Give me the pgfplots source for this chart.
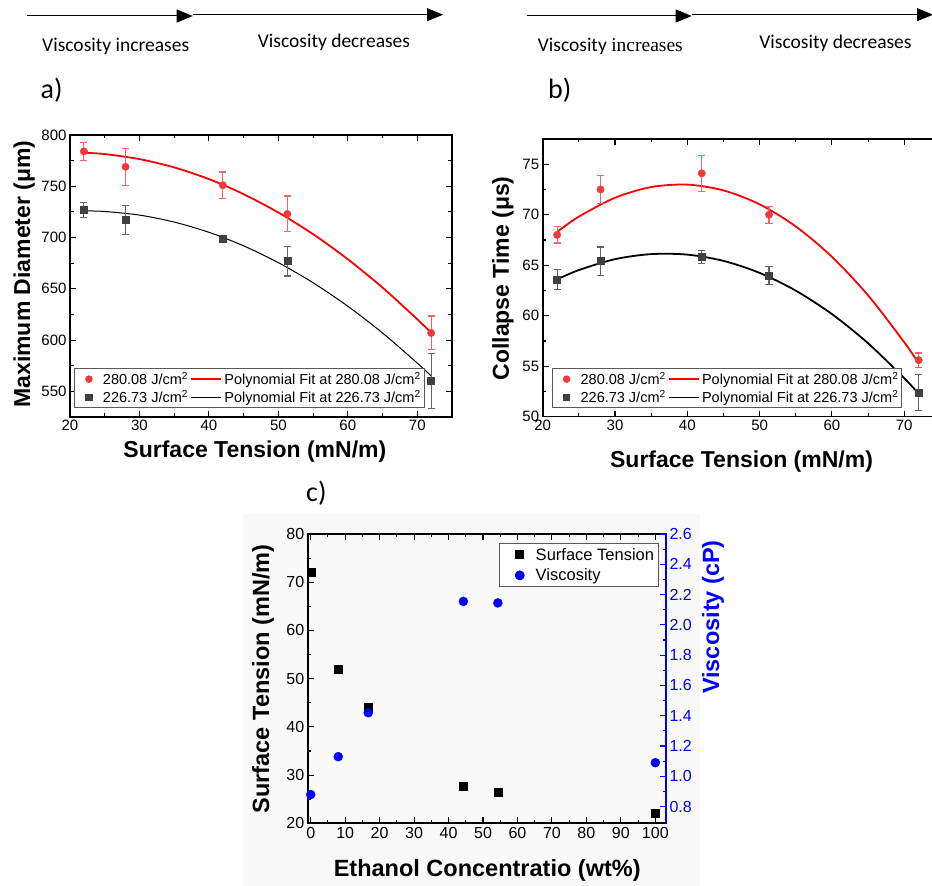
\documentclass[border=0pt]{standalone}
\usepackage{pgfplots}
\pgfplotsset{compat=1.18}
\usepackage{fontspec}
\setmainfont{Liberation Sans}
\newfontfamily\calfont{Carlito}
\newfontfamily\timesfont{Liberation Serif}
\usetikzlibrary{arrows.meta}

\definecolor{fitred}{RGB}{255,0,0}
\definecolor{ptred}{RGB}{240,58,58}
\definecolor{ebred}{RGB}{242,100,100}
\definecolor{ptgray}{RGB}{64,64,64}
\definecolor{ebgray}{RGB}{100,100,100}
\definecolor{vblue}{RGB}{0,0,255}

\newcommand{\fs}[1]{\fontsize{#1}{#1}\selectfont}

\pgfplotsset{
  panel/.style={
    scale only axis,
    axis line style={line width=1.6pt},
    tick style={black, line width=1.1pt},
    major tick length=6pt, minor tick length=3.5pt,
    tick align=inside,
    ticklabel style={font=\fs{15}},
    /pgf/number format/assume math mode=true,
    legend cell align=left,
    clip=false,
  },
  fitline/.style={legend image code/.code={\draw[##1] (-4.5pt,0pt) -- (26pt,0pt);}},
  markleg/.style={legend image code/.code={%
    \path[draw=none, fill=none] (-13pt,-2pt) rectangle (12pt,2pt);
    \draw[##1] plot coordinates {(0pt,0pt)};}},
  markwide/.style={legend image code/.code={%
    \path[draw=none, fill=none] (-18pt,-2pt) rectangle (14pt,2pt);
    \draw[##1] plot coordinates {(0pt,0pt)};}},
}

\begin{document}
\begin{tikzpicture}
\path[use as bounding box] (0pt,0pt) rectangle (932pt,886pt);
\fill[black!2.5] (243pt,0pt) rectangle (700pt,372pt);

% arrows and notes, panel a
\draw[line width=1pt, -{Triangle[length=16pt,width=13pt]}] (27pt,870pt) -- (192.7pt,870pt);
\draw[line width=1pt, -{Triangle[length=16pt,width=13pt]}] (192.7pt,871.3pt) -- (443pt,871.3pt);
\node[font=\calfont\fs{19.5}] at (115.7pt,840pt) {Viscosity increases};
\node[font=\calfont\fs{19.5}] at (334pt,843.7pt) {Viscosity decreases};
\node[font=\calfont\fs{28}, anchor=west, inner sep=0pt] at (40.5pt,796pt) {a)};

% arrows and notes, panel b
\draw[line width=1pt, -{Triangle[length=16pt,width=13pt]}] (526.7pt,870pt) -- (691.7pt,870pt);
\draw[line width=1pt, -{Triangle[length=16pt,width=13pt]}] (691.7pt,871.3pt) -- (933pt,871.3pt);
\node[font=\fs{19.5}] at (610.3pt,840pt) {\calfont Viscosity \timesfont increases};
\node[font=\calfont\fs{19.5}] at (835.5pt,843pt) {Viscosity decreases};
\node[font=\calfont\fs{28}, anchor=west, inner sep=0pt] at (548pt,796pt) {b)};
\node[font=\calfont\fs{28}, anchor=west, inner sep=0pt] at (306pt,393pt) {c)};

% ---------- panel a ----------
\begin{axis}[panel,
  at={(70pt,469pt)}, anchor=south west, width=382pt, height=282pt,
  xmin=20, xmax=75, ymin=525, ymax=800,
  xtick={20,30,...,70}, minor x tick num=1,
  ytick={550,600,...,800}, minor y tick num=1,
  xlabel={Surface Tension (mN/m)}, ylabel={Maximum Diameter (μm)},
  every axis x label/.style={at={(axis description cs:0.484,-0.123)}, anchor=center, font=\fs{23}\bfseries},
  every axis y label/.style={at={(axis description cs:-0.12,0.507)}, rotate=90, anchor=center, font=\fs{23}\bfseries},
  legend columns=2,
  legend style={at={(0.0105,0.1727)}, anchor=north west, font=\fs{14.5},
    draw=gray!70!black, line width=0.9pt, inner sep=1.5pt, row sep=0.5pt,
    /tikz/every even column/.append style={column sep=0pt}},
]
\addlegendimage{markleg, only marks, mark=*, ptred, mark size=3.3pt}
\addlegendentry{280.08 J/cm\textsuperscript{2}}
\addlegendimage{fitline, fitred, line width=1.8pt}
\addlegendentry{Polynomial Fit at 280.08 J/cm\textsuperscript{2}}
\addlegendimage{markleg, only marks, mark=square*, ptgray, mark size=3.2pt}
\addlegendentry{226.73 J/cm\textsuperscript{2}}
\addlegendimage{fitline, black, line width=1pt}
\addlegendentry{Polynomial Fit at 226.73 J/cm\textsuperscript{2}}

\addplot[fitred, line width=1.8pt, smooth, forget plot] coordinates {
  (22,782.7) (25,781.4) (30,776.5) (35,768.4) (40,757.0) (45,742.3)
  (50,724.4) (55,703.3) (60,678.8) (65,651.2) (70,620.3) (72,607.0)};
\addplot[black, line width=1pt, smooth, forget plot] coordinates {
  (22,726.0) (25,725.4) (30,721.9) (35,715.1) (40,705.1) (45,691.9)
  (50,675.5) (55,655.9) (60,633.0) (65,606.9) (70,577.6) (72,565.0)};
\addplot[only marks, mark=*, ptred, mark size=3.7pt, forget plot,
  error bars/.cd, y dir=both, y explicit,
  error bar style={ebred, line width=1.2pt},
  error mark options={rotate=90, ebred, mark size=3.6pt, line width=1.2pt}]
  coordinates {
  (22,784) +- (0,9) (28,769) +- (0,18) (42,751) +- (0,13)
  (51.3,723) +- (0,17.5) (72,607) +- (0,16.5)};
\addplot[only marks, mark=square*, ptgray, mark size=3.5pt, forget plot,
  error bars/.cd, y dir=both, y explicit,
  error bar style={ebgray, line width=1.2pt},
  error mark options={rotate=90, ebgray, mark size=3.6pt, line width=1.2pt}]
  coordinates {
  (22,727) +- (0,7.5) (28,717) +- (0,14) (42,699) +- (0,3)
  (51.3,677) +- (0,14.5) (72,560) +- (0,27)};
\end{axis}

% ---------- panel b ----------
\begin{axis}[panel,
  at={(542.7pt,469.3pt)}, anchor=south west, width=397.7pt, height=277.7pt,
  xmin=20, xmax=75, ymin=50, ymax=77.5,
  xtick={20,30,...,70}, minor x tick num=1,
  ytick={50,55,...,75}, minor y tick num=1,
  xlabel={Surface Tension (mN/m)}, ylabel={Collapse Time (μs)},
  every axis x label/.style={at={(axis description cs:0.5,-0.163)}, anchor=center, font=\fs{23}\bfseries},
  every axis y label/.style={at={(axis description cs:-0.0998,0.498)}, rotate=90, anchor=center, font=\fs{23}\bfseries},
  legend columns=2,
  legend style={at={(0.0226,0.1743)}, anchor=north west, font=\fs{14.5},
    draw=gray!70!black, line width=0.9pt, inner sep=1.5pt, row sep=0.5pt,
    /tikz/every even column/.append style={column sep=0pt}},
]
\addlegendimage{markleg, only marks, mark=*, ptred, mark size=3.3pt}
\addlegendentry{280.08 J/cm\textsuperscript{2}}
\addlegendimage{fitline, fitred, line width=1.8pt}
\addlegendentry{Polynomial Fit at 280.08 J/cm\textsuperscript{2}}
\addlegendimage{markleg, only marks, mark=square*, ptgray, mark size=3.2pt}
\addlegendentry{226.73 J/cm\textsuperscript{2}}
\addlegendimage{fitline, black, line width=1.8pt}
\addlegendentry{Polynomial Fit at 226.73 J/cm\textsuperscript{2}}

\addplot[fitred, line width=1.8pt, smooth, forget plot] coordinates {
  (22,68.30) (25,69.81) (30,71.68) (35,72.74) (40,72.98) (45,72.41)
  (50,71.03) (55,68.84) (60,65.83) (65,62.01) (70,57.37) (72,55.29)};
\addplot[black, line width=1.8pt, smooth, forget plot] coordinates {
  (22,63.60) (25,64.52) (30,65.60) (35,66.10) (40,66.05) (45,65.43)
  (50,64.24) (55,62.48) (60,60.16) (65,57.27) (70,53.81) (72,52.27)};
\addplot[only marks, mark=*, ptred, mark size=3.7pt, forget plot,
  error bars/.cd, y dir=both, y explicit,
  error bar style={ebred, line width=1.2pt},
  error mark options={rotate=90, ebred, mark size=3.6pt, line width=1.2pt}]
  coordinates {
  (22,68.0) +- (0,0.8) (28,72.5) +- (0,1.4) (42,74.1) +- (0,1.8)
  (51.3,70.0) +- (0,0.85) (72,55.6) +- (0,0.7)};
\addplot[only marks, mark=square*, ptgray, mark size=3.5pt, forget plot,
  error bars/.cd, y dir=both, y explicit,
  error bar style={ebgray, line width=1.2pt},
  error mark options={rotate=90, ebgray, mark size=3.6pt, line width=1.2pt}]
  coordinates {
  (22,63.6) +- (0,1.0) (28,65.4) +- (0,1.4) (42,65.8) +- (0,0.65)
  (51.3,64.0) +- (0,0.9) (72,52.4) +- (0,1.8)};
\end{axis}

% ---------- panel c ----------
\begin{axis}[panel,
  at={(307.7pt,62.7pt)}, anchor=south west, width=358.3pt, height=289.3pt,
  xmin=-0.87, xmax=103.1, ymin=20, ymax=80,
  xtick={0,10,...,100}, minor x tick num=1,
  ytick={20,30,...,80}, minor y tick num=1,
  ytick pos=left,
  ticklabel style={font=\fs{16}},
  xlabel={Ethanol Concentratio (wt\%)}, ylabel={Surface Tension (mN/m)},
  every axis x label/.style={at={(axis description cs:0.501,-0.164)}, anchor=center, font=\fs{23.5}\bfseries},
  every axis y label/.style={at={(axis description cs:-0.1248,0.499)}, rotate=90, anchor=center, font=\fs{23.5}\bfseries},
  legend style={at={(0.9805,0.968)}, anchor=north east, font=\fs{16.5},
    draw=gray!70!black, line width=0.9pt, fill=white, inner sep=2.5pt, row sep=3pt},
]
\addlegendimage{markwide, only marks, mark=square*, black, mark size=4pt}
\addlegendentry{Surface Tension}
\addlegendimage{markwide, only marks, mark=*, vblue, mark size=4.5pt}
\addlegendentry{Viscosity}
\addplot[only marks, mark=square*, black, mark size=4pt, forget plot] coordinates {
  (0,72.1) (8,51.9) (16.7,44.1) (44.3,27.7) (54.3,26.4) (100,22.1)};
\end{axis}
\begin{axis}[panel,
  at={(307.7pt,62.7pt)}, anchor=south west, width=358.3pt, height=289.3pt,
  xmin=-0.87, xmax=103.1, ymin=0.69, ymax=2.6,
  axis x line=none, axis y line*=right,
  y axis line style={-, vblue, line width=1.6pt},
  tick style={vblue},
  ytick={0.8,1.0,1.2,1.4,1.6,1.8,2.0,2.2,2.4,2.6}, minor y tick num=1,
  yticklabel style={font=\fs{16}, text=vblue},
  ylabel={Viscosity (cP)},
  every axis y label/.style={at={(axis description cs:1.131,0.713)}, rotate=90, anchor=center, text=vblue, font=\fs{23.5}\bfseries},
  /pgf/number format/fixed, /pgf/number format/fixed zerofill, /pgf/number format/precision=1,
]
\addplot[only marks, mark=*, vblue, mark size=4.5pt] coordinates {
  (0,0.88) (8,1.13) (16.7,1.42) (44.3,2.155) (54.3,2.145) (100,1.09)};
\end{axis}
\end{tikzpicture}
\end{document}
